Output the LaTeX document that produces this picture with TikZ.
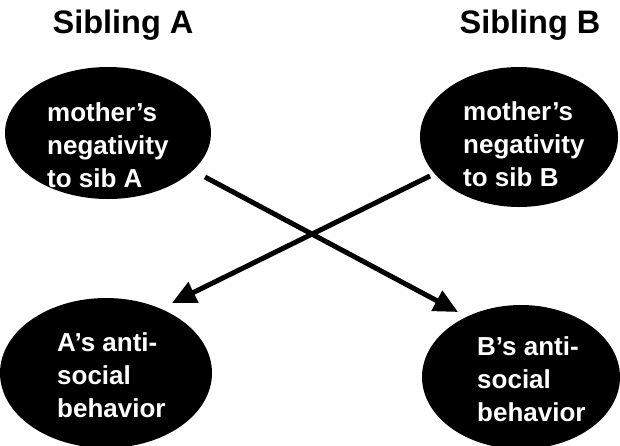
\documentclass[tikz,border=0pt]{standalone}
\usepackage{fontspec}
\setmainfont{Liberation Sans}
\newfontfamily\titlefont{Liberation Sans}[BoldFont={* Bold}]
\newfontfamily\blobfont{Liberation Sans Bold}
\usetikzlibrary{arrows.meta,shapes.geometric}
\begin{document}
\begin{tikzpicture}[x=1pt,y=-1pt,
  blob/.style={ellipse,fill=black,draw=none,inner sep=0pt},
  blobtext/.style={text=white,align=left,anchor=base west,inner sep=0pt,
    font=\blobfont\fontsize{26}{33}\selectfont},
  heading/.style={anchor=base,inner sep=0pt,
    font=\titlefont\bfseries\fontsize{32.5}{36}\selectfont},
  link/.style={line width=5pt,-{Triangle[length=24pt,width=22pt]}}]
\useasboundingbox (0,0) rectangle (620,445);

% column headings
\node[heading] (hA) at (123,33) {Sibling A};
\node[heading] (hB) at (530,33) {Sibling B};

% the four variables
\node[blob,minimum width=206pt,minimum height=132pt] (mA) at (108,133) {};
\node[blob,minimum width=198pt,minimum height=140pt] (mB) at (519,137) {};
\node[blob,minimum width=212pt,minimum height=150pt] (bA) at (106,373) {};
\node[blob,minimum width=198pt,minimum height=144pt] (bB) at (521,377) {};

% labels: the anchor sits on the baseline of the last line
\node[blobtext] (tmA) at (47,187) {mother’s\\negativity\\to sib A};
\node[blobtext] (tmB) at (463,186) {mother’s\\negativity\\to sib B};
\node[blobtext] (tbA) at (57,417) {A’s anti-\\social\\behavior};
\node[blobtext] (tbB) at (477,421) {B’s anti-\\social\\behavior};

% cross-sibling paths
\coordinate (sA) at (205,177);
\coordinate (eB) at (458,312);
\coordinate (sB) at (430,176);
\coordinate (eA) at (172,303);
\draw[link] (sA) -- (eB);
\draw[link] (sB) -- (eA);
\end{tikzpicture}
\end{document}
